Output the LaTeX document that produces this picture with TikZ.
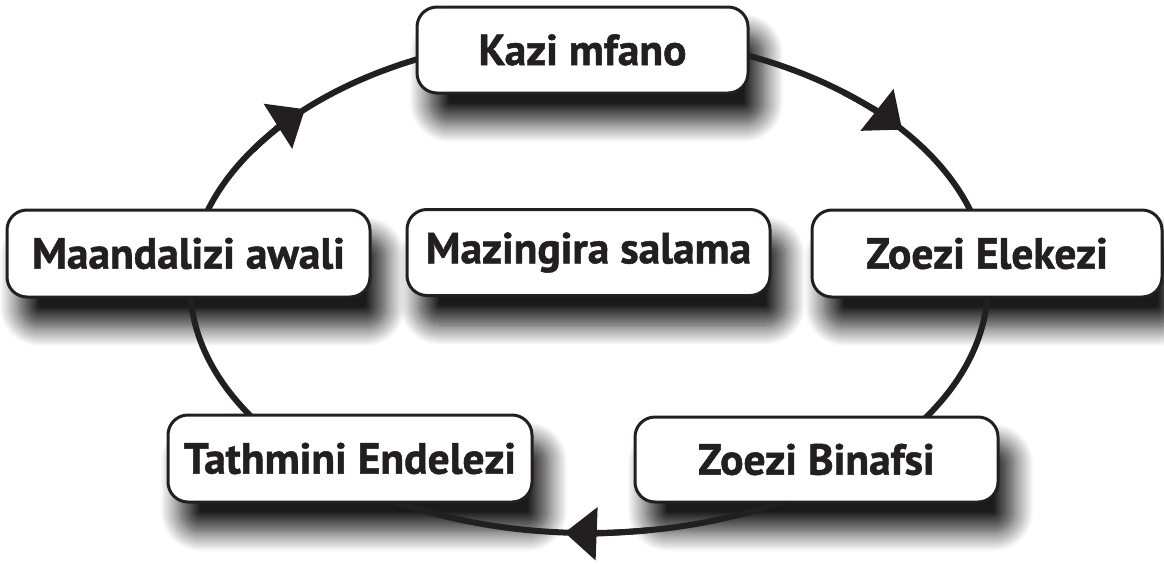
\documentclass[tikz,border=0pt]{standalone}
\usepackage{fontspec}
\setmainfont{PT Sans}[BoldFeatures={FakeBold=1.2}]
\usetikzlibrary{shadows.blur,arrows.meta,calc}
\pgfdeclarelayer{shadowlayer}
\pgfdeclarelayer{looplayer}
\pgfsetlayers{shadowlayer,looplayer,main}
\definecolor{ink}{HTML}{231F20}
\tikzset{
  box/.style={draw=ink, line width=3pt, fill=white, rounded corners=20pt,
    minimum height=86pt, inner sep=0pt, text=ink,
    font=\fontsize{43.5}{50}\selectfont\bfseries},
  boxshade/.style={rounded corners=20pt,
    blur shadow={shadow xshift=14pt, shadow yshift=-28pt,
      shadow blur radius=20pt, shadow blur steps=20, shadow opacity=90}},
  loopline/.style={draw=ink, line width=6pt},
  looptip/.style={-{Triangle[length=32pt,width=52pt]}}
}
\begin{document}
\begin{tikzpicture}[x=1pt,y=-1pt]
\useasboundingbox (0,0) rectangle (1164,565);
\node[box, minimum width=331pt, minimum height=86pt] (kazi) at (582.5,50) {Kazi mfano};
\node[box, minimum width=363pt, minimum height=87pt] (maandalizi) at (188.5,253.5) {Maandalizi awali};
\node[box, minimum width=363pt, minimum height=86pt] (mazingira) at (588.5,252.5) {Mazingira salama};
\node[box, minimum width=350pt, minimum height=87pt] (elekezi) at (987,253.5) {Zoezi Elekezi};
\node[box, minimum width=364pt, minimum height=87pt] (tathmini) at (350,458.5) {Tathmini Endelezi};
\node[box, minimum width=363pt, minimum height=85pt] (binafsi) at (816.5,459.5) {Zoezi Binafsi};
\begin{pgfonlayer}{shadowlayer}
  \foreach \n in {kazi,maandalizi,mazingira,elekezi,tathmini,binafsi}
    \path[boxshade] (\n.south west) rectangle (\n.north east);
\end{pgfonlayer}
\begin{pgfonlayer}{looplayer}
  \coordinate (c) at (589,284);
  \draw[loopline] (c) ellipse [x radius=399, y radius=249];
  \foreach \t in {224.6,321.7,453.5}
    \draw[loopline, looptip] ($(c)+({399*cos(\t-12)},{249*sin(\t-12)})$)
      arc[start angle=\t-12, end angle=\t, x radius=399, y radius=249];
\end{pgfonlayer}
\end{tikzpicture}
\end{document}
